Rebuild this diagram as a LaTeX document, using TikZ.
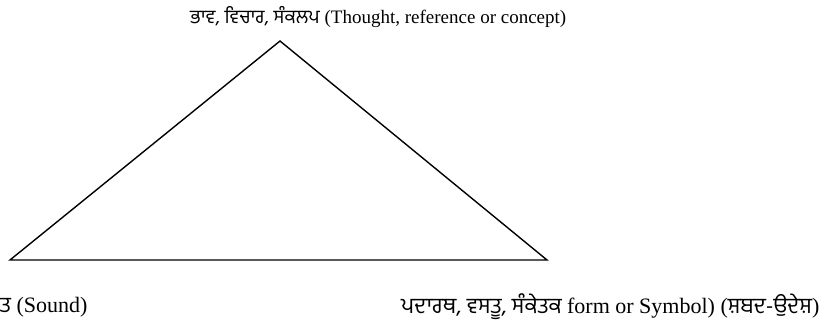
\documentclass[tikz,border=0pt]{standalone}
\usepackage{fontspec}
\setmainfont{Liberation Serif}
\newfontfamily\gurmukhi[Script=Gurmukhi]{Hind Jalandhar}
\begin{document}
\begin{tikzpicture}[x=1pt,y=-1pt,
  lbl/.style={inner sep=0pt, font=\fontsize{19}{22}\selectfont},
  lblb/.style={inner sep=0pt, font=\fontsize{22}{25}\selectfont},
  edge/.style={draw=black, line width=1.4pt, line join=miter}]
\useasboundingbox (0,0) rectangle (819,328);
\coordinate (apex) at (280,41);
\coordinate (bl) at (10,260);
\coordinate (br) at (547,260);
\draw[edge] (apex) -- (br) -- (bl) -- cycle;
\node[lbl, anchor=west] (top) at (190,17) {{\gurmukhi ਭਾਵ, ਵਿਚਾਰ, ਸੰਕਲਪ} (Thought, reference or concept)};
\node[lblb, anchor=west] (left) at (0,307) {{\gurmukhi ਤ} (Sound)};
\node[lblb, anchor=west] (right) at (401,307) {{\gurmukhi ਪਦਾਰਥ, ਵਸਤੂ, ਸੰਕੇਤਕ} form or Symbol) ({\gurmukhi ਸ਼ਬਦ-ਉਦੇਸ਼})};
\end{tikzpicture}
\end{document}
